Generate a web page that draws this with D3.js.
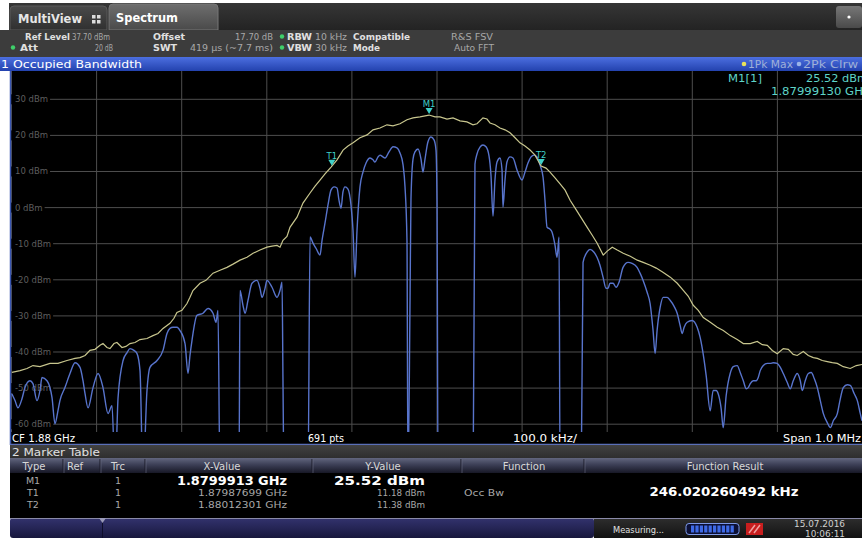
<!DOCTYPE html>
<html><head><meta charset="utf-8">
<script src="https://cdn.jsdelivr.net/npm/d3@7"></script>
<style>
body{margin:0;background:#fff;}
svg{display:block;}
text{font-family:"DejaVu Sans",Verdana,sans-serif;}
</style>
</head><body>
<svg id="c" width="862" height="542"></svg>
<script>
// ---------------- DATA ----------------
const yTicks = [30, 20, 10, 0, -10, -20, -30, -40, -50, -60];
const xTicks = [-500, -400, -300, -200, -100, 0, 100, 200, 300, 400, 500]; // kHz offset from CF
const refLevel = 37.7, bottomLevel = -62.3;

// Trace 1: 1Pk Max (kHz offset, dBm)
const pkMaxFreq = [-499,-489.4,-481.2,-474.2,-465.9,-454.2,-444.8,-434.2,-424.8,-418.9,-413.0,-407.2,-401.3,-395.4,-391.9,-387.2,-383.7,-379.0,-375.5,-369.6,-364.9,-360.2,-354.3,-348.4,-340.2,-333.2,-327.3,-321.4,-313.2,-308.5,-305.0,-299.1,-293.2,-289.7,-286.2,-277.9,-270.9,-262.6,-254.4,-246.2,-239.1,-230.9,-222.7,-215.6,-207.4,-199.2,-193.3,-187.4,-183.9,-180.4,-175.7,-172.2,-163.9,-156.9,-148.6,-142.7,-136.9,-131.0,-123.9,-116.9,-109.8,-104.0,-98.1,-89.9,-81.6,-74.6,-66.4,-58.2,-51.1,-42.9,-34.7,-27.6,-19.4,-8.8,-1.8,4.1,12.3,19.4,27.6,35.8,42.9,47.6,54.6,59.3,62.9,68.7,74.6,80.5,86.4,92.3,98.1,104.0,109.9,115.8,122.9,128.7,133.4,139.3,145.2,151.1,157.0,162.9,168.8,177.1,183.0,188.8,195.9,200.6,206.5,212.4,219.4,227.7,235.9,242.9,251.2,258.2,266.5,274.7,282.9,290.0,295.9,301.7,307.6,313.5,321.7,329.9,337.0,345.2,353.4,360.5,368.7,376.9,382.8,388.7,394.6,400.4,407.5,413.4,419.2,423.9,431.0,436.9,442.8,447.5,453.3,459.2,465.1,471.0,478.0,486.2,493.3,500];
const pkMaxLevel = [-45.8,-45.3,-44.7,-43.9,-44.2,-43.3,-43.3,-42.5,-41.9,-41.7,-41.1,-39.7,-39.4,-38.3,-37.8,-38.9,-39.2,-37.8,-37.5,-38.9,-38.6,-37.8,-37.5,-36.7,-36.4,-35.6,-35.0,-33.6,-32.2,-30.8,-29.2,-28.6,-26.7,-25.0,-23.1,-21.1,-20.3,-18.3,-17.5,-16.7,-15.8,-14.7,-13.9,-12.8,-11.9,-11.1,-10.8,-10.6,-11.1,-9.2,-8.1,-5.6,-2.8,1.1,3.9,5.8,7.5,9.2,11.1,13.1,15.8,16.9,17.8,19.2,20.0,21.4,21.9,22.8,22.5,23.1,24.2,24.7,25.0,25.5,25.0,25.0,24.4,24.7,23.9,23.6,22.8,23.1,24.7,24.4,23.3,22.8,21.9,21.4,20.6,19.2,17.8,16.9,15.8,14.4,11.4,10.8,9.7,8.1,6.4,4.7,1.9,-0.3,-2.5,-5.6,-7.8,-10.0,-13.3,-12.2,-11.1,-11.9,-12.8,-13.6,-14.7,-15.3,-16.1,-16.9,-18.1,-19.4,-21.1,-23.1,-24.7,-27.2,-28.6,-30.6,-31.9,-33.3,-34.2,-35.6,-36.7,-37.8,-37.8,-37.2,-38.1,-38.3,-39.7,-40.6,-39.2,-39.4,-40.8,-41.1,-40.0,-41.1,-41.7,-41.9,-42.5,-42.8,-43.1,-43.3,-44.2,-44.7,-43.9,-43.6];

// Trace 2: 2Pk Clrw (kHz offset, dBm); -75 = below display range
const clrwFreq = [-499,-495.3,-491.8,-487.1,-483.6,-477.7,-474.2,-469.5,-465.9,-463.6,-457.7,-451.8,-448.3,-444.8,-442.5,-436.6,-430.7,-424.8,-418.9,-415.4,-413.0,-409.5,-403.6,-397.7,-391.9,-386.0,-381.3,-377.7,-374.2,-368.3,-363.6,-360.2,-355.5,-351.9,-348.4,-344.9,-340.2,-336.7,-328.4,-321.4,-316.7,-313.2,-309.6,-304.9,-301.4,-295.5,-292.0,-289.7,-287.3,-281.5,-274.4,-268.5,-262.6,-259.1,-256.8,-254.4,-232.1,-230.9,-227.4,-225.0,-221.5,-216.8,-210.9,-207.4,-205.0,-201.5,-199.2,-193.3,-187.4,-183.9,-181.5,-180.4,-179.2,-151.0,-148.6,-145.1,-141.6,-136.9,-134.5,-131.0,-127.5,-124.0,-120.4,-116.9,-114.6,-112.2,-109.9,-107.5,-104.0,-100.5,-98.1,-95.8,-93.4,-89.9,-86.4,-82.8,-78.1,-74.6,-72.3,-68.7,-66.4,-62.9,-60.5,-55.8,-51.1,-46.4,-42.9,-39.3,-37.0,-34.7,-33.5,-31.1,-30.0,-27.6,-25.3,-21.7,-18.2,-15.9,-13.5,-10.0,-6.5,-2.9,-0.6,0.6,1.8,43.0,45.2,47.6,51.1,54.6,58.2,61.7,64.0,66.4,68.7,71.1,74.6,77.0,78.1,80.5,82.8,86.4,89.9,94.6,100.5,104.0,107.5,111.1,114.6,118.1,121.6,125.2,127.5,129.9,133.4,135.7,139.3,141.6,144.0,145.2,170.0,172.2,176.9,180.4,185.1,188.6,192.1,195.7,199.2,201.6,203.9,207.5,211.0,214.5,219.2,225.1,229.8,235.7,239.2,242.8,247.5,251.0,254.5,256.9,259.2,262.8,266.3,271.0,274.5,279.2,282.8,286.3,288.6,291.0,294.5,300.4,306.3,309.8,313.3,316.9,321.6,325.1,328.7,331.0,334.5,336.9,340.4,345.1,348.7,353.4,356.9,360.5,364.0,366.3,368.7,372.2,375.7,378.1,380.4,384.0,388.7,392.2,395.7,400.4,404.0,407.5,412.2,415.7,419.2,423.9,427.5,429.8,433.3,436.9,440.4,443.9,447.5,451.0,454.6,459.2,462.8,466.3,471.0,474.5,478.0,482.7,486.2,490.9,494.5,498.0,500];
const clrwLevel = [-51.7,-53.6,-55.6,-53.1,-50.0,-48.1,-48.9,-53.6,-50.8,-47.2,-48.1,-52.8,-60.0,-56.4,-53.6,-50.0,-46.1,-43.1,-44.4,-48.1,-51.7,-55.6,-50.0,-46.1,-50.0,-57.2,-55.0,-75,-52.8,-42.5,-40.3,-39.2,-39.7,-40.6,-45.3,-75,-50.8,-44.4,-42.5,-39.7,-35.0,-33.6,-33.3,-33.3,-34.2,-37.8,-46.1,-41.1,-36.9,-30.0,-29.4,-28.1,-29.4,-31.9,-28.6,-75,-75,-23.1,-27.2,-29.4,-25.8,-21.1,-20.3,-22.5,-25.0,-22.5,-20.3,-22.2,-25.0,-23.1,-20.8,-48.1,-75,-75,-8.3,-10.0,-11.4,-13.3,-9.2,-4.4,0.6,4.7,5.6,5.3,1.9,-0.3,4.2,5.6,5.0,0.6,-6.4,-19.4,-6.4,5.6,9.7,12.2,13.6,13.1,12.5,13.9,14.4,13.9,13.6,15.3,16.7,16.4,15.0,11.7,5.6,-9.2,-75,-25.8,2.2,13.3,15.3,16.1,13.3,9.7,13.3,18.1,19.4,18.6,15.8,1.9,-75,-75,11.9,14.7,16.6,17.2,16.7,14.2,8.9,-2.5,7.5,12.5,13.6,10.3,0.0,7.5,12.5,13.9,13.6,10.3,7.5,9.7,12.2,13.9,14.4,13.9,11.7,8.3,1.9,-5.6,-6.1,-6.9,-10.6,-13.9,-8.3,-75,-75,-15.3,-12.5,-11.7,-12.5,-13.9,-16.1,-19.4,-22.5,-22.5,-21.1,-21.1,-22.2,-20.8,-16.7,-15.3,-15.6,-16.7,-18.3,-20.3,-23.6,-26.7,-34.2,-40.6,-34.2,-27.8,-25.0,-25.0,-25.8,-27.5,-29.4,-32.8,-35.0,-33.3,-31.9,-31.4,-33.3,-36.1,-40.6,-46.7,-56.4,-50.8,-50.8,-51.7,-55.8,-61.1,-52.2,-46.1,-44.2,-43.9,-45.8,-48.1,-50.3,-50.0,-48.9,-48.1,-48.1,-47.2,-45.3,-43.9,-43.3,-43.3,-43.1,-43.3,-44.4,-46.1,-48.6,-50.3,-48.1,-46.1,-48.1,-50.8,-48.1,-46.1,-45.8,-47.5,-50.0,-53.6,-57.2,-59.7,-61.1,-59.2,-57.2,-53.1,-50.0,-49.2,-49.4,-51.7,-53.6,-57.2,-59.2];

// Markers
const markerNames = ["M1", "T1", "T2"];
const markerFreq = [-8.7, -123.01, 123.01];
const markerLevel = [25.52, 11.18, 11.38];
const markerTrc = ["1", "1", "1"];
const markerXText = ["1.8799913 GHz", "1.87987699 GHz", "1.88012301 GHz"];
const markerYText = ["25.52 dBm", "11.18 dBm", "11.38 dBm"];
const markerFunc = ["", "Occ Bw", ""];
const funcResult = "246.020260492 kHz";
const tableHeaders = ["Type", "Ref", "Trc", "X-Value", "Y-Value", "Function", "Function Result"];

// ---------------- DRAW ----------------
const svg = d3.select("#c");
const defs = svg.append("defs");
function grad(id, stops) {
  const g = defs.append("linearGradient").attr("id", id).attr("x1", 0).attr("y1", 0).attr("x2", 0).attr("y2", 1);
  stops.forEach(([o, c]) => g.append("stop").attr("offset", o).attr("stop-color", c));
}
grad("gTop", [[0, "#363636"], [1, "#232323"]]);
grad("gSpec", [[0, "#6e6e6e"], [1, "#4a4a4a"]]);
grad("gMV", [[0, "#4a4a4a"], [1, "#303030"]]);
grad("gBlue", [[0, "#4c6fe0"], [1, "#2342ae"]]);
grad("gHdr", [[0, "#62667e"], [0.45, "#3c3f56"], [1, "#171826"]]);
grad("gMT", [[0, "#424242"], [1, "#2e2e2e"]]);
grad("gStat", [[0, "#33336e"], [1, "#17173d"]]);
grad("gStat2", [[0, "#2e2e2e"], [1, "#121212"]]);
grad("gBtn", [[0, "#777"], [1, "#4a4a4a"]]);

function txt(g, x, y, s, o = {}) {
  const t = g.append("text").attr("x", x).attr("y", y).text(s)
    .attr("font-size", o.size || 10).attr("fill", o.fill || "#ddd")
    .attr("font-weight", o.weight || "normal").attr("text-anchor", o.anchor || "start")
    .attr("dominant-baseline", "central");
  if (o.len) t.attr("textLength", o.len).attr("lengthAdjust", "spacingAndGlyphs");
  return t;
}

svg.append("rect").attr("width", 862).attr("height", 542).attr("fill", "#fff");

// top tab bar
svg.append("rect").attr("x", 9).attr("y", 3).attr("width", 853).attr("height", 27).attr("fill", "url(#gTop)");
svg.append("path").attr("d", "M10,30 V10 Q10,6 14,6 H103 Q107,6 107,10 V30 Z").attr("fill", "url(#gMV)").attr("stroke", "#5a5a5a");
svg.append("path").attr("d", "M109,30 V8 Q109,4 113,4 H214 Q218,4 218,8 V30 Z").attr("fill", "url(#gSpec)").attr("stroke", "#777");
txt(svg, 18, 18.5, "MultiView", { size: 12, weight: "bold", fill: "#e6e6e6", len: 64 });
[[92, 15], [97, 15], [92, 20], [97, 20]].forEach(p => svg.append("rect").attr("x", p[0]).attr("y", p[1]).attr("width", 3.5).attr("height", 3.5).attr("fill", "#ddd"));
txt(svg, 116, 17.5, "Spectrum", { size: 12.5, weight: "bold", fill: "#fff", len: 62 });
svg.append("rect").attr("x", 836).attr("y", 6).attr("width", 26).attr("height", 22).attr("rx", 3).attr("fill", "url(#gBtn)");
svg.append("circle").attr("cx", 849).attr("cy", 17).attr("r", 1.6).attr("fill", "#fff");

// info bar
svg.append("rect").attr("x", 0).attr("y", 30).attr("width", 862).attr("height", 27).attr("fill", "#3c3c3c");
const lab = { size: 9, weight: "bold", fill: "#e0e0e0" }, val = { size: 9, fill: "#a8a8a8" };
const r1 = 36.5, r2 = 47.5;
txt(svg, 25, r1, "Ref Level", Object.assign({ len: 45 }, lab));
txt(svg, 72, r1, "37.70 dBm", Object.assign({ len: 38 }, val));
txt(svg, 153, r1, "Offset", Object.assign({ len: 32 }, lab));
txt(svg, 273, r1, "17.70 dB", Object.assign({ anchor: "end", len: 38 }, val));
txt(svg, 287, r1, "RBW", Object.assign({ len: 25 }, lab));
txt(svg, 315, r1, "10 kHz", Object.assign({ len: 32 }, val));
txt(svg, 353, r1, "Compatible", Object.assign({ len: 57 }, lab));
txt(svg, 451, r1, "R&S FSV", Object.assign({ len: 42 }, val));
txt(svg, 20, r2, "Att", Object.assign({ len: 18 }, lab));
txt(svg, 113, r2, "20 dB", Object.assign({ anchor: "end", len: 18 }, val));
txt(svg, 153, r2, "SWT", Object.assign({ len: 24 }, lab));
txt(svg, 190, r2, "419 µs (~7.7 ms)", Object.assign({ len: 83 }, val));
txt(svg, 287, r2, "VBW", Object.assign({ len: 25 }, lab));
txt(svg, 315, r2, "30 kHz", Object.assign({ len: 32 }, val));
txt(svg, 353, r2, "Mode", Object.assign({ len: 27 }, lab));
txt(svg, 454, r2, "Auto FFT", Object.assign({ len: 40 }, val));
[[13, r2], [282, r1], [282, r2]].forEach(p => svg.append("circle").attr("cx", p[0]).attr("cy", p[1]).attr("r", 2.2).attr("fill", "#3fcf6a"));

// blue title bar
svg.append("rect").attr("x", 0).attr("y", 57).attr("width", 862).attr("height", 14).attr("fill", "url(#gBlue)");
txt(svg, 1, 64, "1 Occupied Bandwidth", { size: 10.5, fill: "#fff", len: 141 });
svg.append("circle").attr("cx", 744).attr("cy", 64).attr("r", 2.3).attr("fill", "#e8e25a");
txt(svg, 748, 64, "1Pk Max", { size: 10, fill: "#9fb0d8", len: 45 });
svg.append("circle").attr("cx", 799).attr("cy", 64).attr("r", 2.3).attr("fill", "#9ab4e8");
txt(svg, 803, 64, "2Pk Clrw", { size: 10, fill: "#9fb0d8", len: 55 });

// plot area
const x = d3.scaleLinear().domain([-500, 500]).range([11, 862]);
const y = d3.scaleLinear().domain([bottomLevel, refLevel]).range([432, 71]);
svg.append("rect").attr("x", 10).attr("y", 71).attr("width", 852).attr("height", 374).attr("fill", "#000");

const gx = svg.append("g").attr("transform", "translate(0,71)")
  .call(d3.axisBottom(x).tickValues(xTicks).tickSize(361).tickFormat(""));
gx.select(".domain").remove();
gx.selectAll("line").attr("stroke", "#4e4e4e");

const gy = svg.append("g").attr("transform", "translate(11,0)")
  .call(d3.axisRight(y).tickValues(yTicks).tickSize(851).tickFormat(d => d + " dBm"));
gy.select(".domain").remove();
gy.selectAll("line").attr("stroke", "#4e4e4e");
gy.selectAll(".tick").each(function () {
  const tk = d3.select(this);
  const t = tk.select("text").attr("x", 4).attr("dy", null).attr("dominant-baseline", "central")
    .attr("text-anchor", "start").attr("fill", "#5e5e5e").attr("font-size", 8.5)
    .attr("font-family", "DejaVu Sans, Verdana, sans-serif");
  const w = t.node().getComputedTextLength();
  tk.insert("rect", "text").attr("x", 0).attr("y", -5).attr("width", w + 6).attr("height", 10).attr("fill", "#000");
});

const clip = defs.append("clipPath").attr("id", "plotClip");
clip.append("rect").attr("x", 11).attr("y", 71).attr("width", 851).attr("height", 361);

const clrwPts = clrwFreq.map((f, i) => [f, clrwLevel[i]]);
const pkPts = pkMaxFreq.map((f, i) => [f, pkMaxLevel[i]]);
const traces = svg.append("g").attr("clip-path", "url(#plotClip)");
traces.append("path").attr("d", d3.line().x(d => x(d[0])).y(d => y(d[1])).curve(d3.curveMonotoneX)(clrwPts))
  .attr("fill", "none").attr("stroke", "#5874cc").attr("stroke-width", 1.4);
traces.append("path").attr("d", d3.line().x(d => x(d[0])).y(d => y(d[1])).curve(d3.curveLinear)(pkPts))
  .attr("fill", "none").attr("stroke", "#c8c68e").attr("stroke-width", 1.2);

// markers
markerNames.forEach((m, i) => {
  const mx = x(markerFreq[i]), my = y(markerLevel[i]);
  svg.append("path").attr("d", `M${mx - 3.5},${my - 7} L${mx + 3.5},${my - 7} L${mx},${my - 1} Z`).attr("fill", "#3fd0c8");
  txt(svg, mx, my - 11, m, { size: 8.5, fill: "#3fd0c8", anchor: "middle" });
});
txt(svg, 728, 78, "M1[1]", { size: 10.5, fill: "#5fd4c8", len: 34 });
txt(svg, 806, 78, markerYText[0], { size: 10.5, fill: "#5fd4c8", len: 62 });
txt(svg, 771, 91, "1.87999130 GHz", { size: 10.5, fill: "#5fd4c8", len: 98 });

// left blue border & bottom info row
svg.append("line").attr("x1", 10.5).attr("x2", 10.5).attr("y1", 71).attr("y2", 445).attr("stroke", "#3a56b0").attr("stroke-width", 1.5);
svg.append("line").attr("x1", 10).attr("x2", 862).attr("y1", 444.5).attr("y2", 444.5).attr("stroke", "#5a6fb8").attr("stroke-width", 1.5);
txt(svg, 12, 438, "CF 1.88 GHz", { size: 10.5, fill: "#fff", len: 63 });
txt(svg, 308, 438, "691 pts", { size: 10.5, fill: "#fff", len: 36 });
txt(svg, 513, 438, "100.0 kHz/", { size: 10.5, fill: "#fff", len: 64 });
txt(svg, 861, 438, "Span 1.0 MHz", { size: 10.5, fill: "#fff", anchor: "end", len: 78 });

// marker table
svg.append("rect").attr("x", 10).attr("y", 445).attr("width", 852).attr("height", 13).attr("fill", "url(#gMT)");
txt(svg, 12, 452, "2 Marker Table", { size: 10, fill: "#e0e0e0", len: 88 });
svg.append("rect").attr("x", 10).attr("y", 458).attr("width", 852).attr("height", 15).attr("fill", "url(#gHdr)");
svg.append("rect").attr("x", 10).attr("y", 473).attr("width", 852).attr("height", 45).attr("fill", "#000");
[63, 100, 145, 312, 461, 584].forEach(sx => {
  svg.append("line").attr("x1", sx).attr("x2", sx).attr("y1", 459).attr("y2", 473).attr("stroke", "#1a1b28");
  svg.append("line").attr("x1", sx + 1).attr("x2", sx + 1).attr("y1", 459).attr("y2", 473).attr("stroke", "#6b6f86").attr("stroke-opacity", 0.6);
});
const hdrX = [34, 75, 118, 222, 383, 524, 725];
tableHeaders.forEach((h, i) => txt(svg, hdrX[i], 466, h, { size: 10, fill: "#d8d8d8", anchor: "middle" }));
const rowY = [480.5, 492.5, 504.5];
markerNames.forEach((m, i) => {
  txt(svg, 33, rowY[i], m, { size: 9.5, fill: "#a8a8a8", anchor: "middle" });
  txt(svg, 118, rowY[i], markerTrc[i], { size: 9.5, fill: "#a8a8a8", anchor: "middle" });
  if (i === 0) {
    txt(svg, 287, rowY[i], markerXText[i], { size: 12.5, weight: "bold", fill: "#fff", anchor: "end", len: 110 });
    txt(svg, 425, rowY[i], markerYText[i], { size: 12.5, weight: "bold", fill: "#fff", anchor: "end", len: 91 });
  } else {
    txt(svg, 287, rowY[i], markerXText[i], { size: 9.5, fill: "#a8a8a8", anchor: "end", len: 89 });
    txt(svg, 425, rowY[i], markerYText[i], { size: 9.5, fill: "#a8a8a8", anchor: "end", len: 48 });
  }
  if (markerFunc[i]) txt(svg, 464, rowY[i], markerFunc[i], { size: 9.5, fill: "#a8a8a8", len: 40 });
});
txt(svg, 724, 491, funcResult, { size: 12.5, weight: "bold", fill: "#fff", anchor: "middle", len: 149 });

// status bar
svg.append("rect").attr("x", 10).attr("y", 518).attr("width", 584).attr("height", 20).attr("rx", 3).attr("fill", "url(#gStat)");
svg.append("rect").attr("x", 594).attr("y", 518).attr("width", 268).attr("height", 20).attr("fill", "url(#gStat2)");
svg.append("line").attr("x1", 10).attr("x2", 862).attr("y1", 518.5).attr("y2", 518.5).attr("stroke", "#8a8aa8").attr("stroke-width", 1);
svg.append("line").attr("x1", 102.5).attr("x2", 102.5).attr("y1", 519).attr("y2", 538).attr("stroke", "#0e0e2a");
svg.append("path").attr("d", "M99,518 L106,518 L102.5,523 Z").attr("fill", "#9a9ab8");
txt(svg, 613, 529, "Measuring...", { size: 9.5, fill: "#e0e0e0", len: 51 });
svg.append("rect").attr("x", 686).attr("y", 523.5).attr("width", 53).attr("height", 11).attr("rx", 3).attr("fill", "#0c1035").attr("stroke", "#7c98e8");
d3.range(10).forEach(k => svg.append("rect").attr("x", 691 + k * 4.4).attr("y", 525.5).attr("width", 3.2).attr("height", 7).attr("fill", "#3e6ae6"));
svg.append("rect").attr("x", 746).attr("y", 523).attr("width", 17).attr("height", 12).attr("fill", "#c81e1e");
svg.append("path").attr("d", "M749,533 L755,525 M754,533 L760,525").attr("stroke", "#f0a0a0").attr("stroke-width", 1.5);
txt(svg, 845, 524, "15.07.2016", { size: 8.5, fill: "#d0d0d0", anchor: "end", len: 51 });
txt(svg, 845, 534, "10:06:11", { size: 8.5, fill: "#d0d0d0", anchor: "end", len: 40 });
</script>
</body></html>
